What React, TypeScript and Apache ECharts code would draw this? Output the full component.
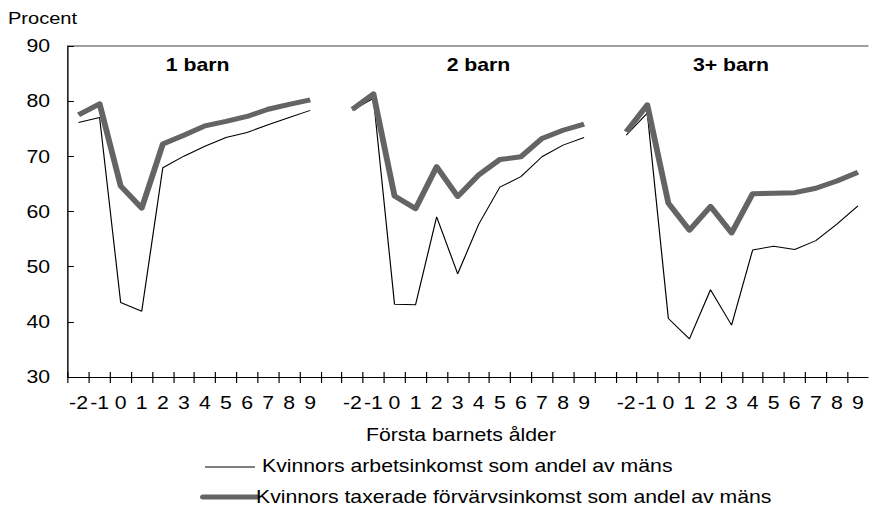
import React, { useEffect, useRef } from "react";
import * as echarts from "echarts";

// ---- data ----
const ages = ["-2", "-1", "0", "1", "2", "3", "4", "5", "6", "7", "8", "9"];
const panelTitles = ["1 barn", "2 barn", "3+ barn"];

const arbetsinkomst1 = [76.1, 77.0, 43.5, 41.9, 67.9, 70.0, 71.8, 73.4, 74.3, 75.7, 77.0, 78.3];
const arbetsinkomst2 = [78.3, 80.5, 43.2, 43.1, 59.0, 48.7, 57.7, 64.4, 66.3, 69.9, 72.0, 73.4];
const arbetsinkomst3 = [73.8, 77.8, 40.6, 36.9, 45.8, 39.4, 53.0, 53.7, 53.1, 54.7, 57.7, 61.0];

const taxerad1 = [77.5, 79.5, 64.6, 60.6, 72.2, 73.8, 75.5, 76.3, 77.2, 78.5, 79.4, 80.2];
const taxerad2 = [78.5, 81.3, 62.8, 60.5, 68.1, 62.7, 66.6, 69.4, 69.9, 73.2, 74.7, 75.8];
const taxerad3 = [74.4, 79.3, 61.5, 56.6, 60.9, 56.1, 63.2, 63.3, 63.4, 64.2, 65.5, 67.1];

const seriesNames = [
  "Kvinnors arbetsinkomst som andel av mäns",
  "Kvinnors taxerade förvärvsinkomst som andel av mäns",
];
const yTitle = "Procent";
const xTitle = "Första barnets ålder";
const yMin = 30;
const yMax = 90;
const yInterval = 10;

// ---- build category axis with gaps between panels ----
const categories: string[] = [];
ages.forEach((a) => categories.push(a));
categories.push("");
ages.forEach((a) => categories.push(a));
categories.push("");
ages.forEach((a) => categories.push(a));

const joinPanels = (a: number[], b: number[], c: number[]) =>
  [...a, null, ...b, null, ...c] as (number | null)[];

const thinData = joinPanels(arbetsinkomst1, arbetsinkomst2, arbetsinkomst3);
const thickData = joinPanels(taxerad1, taxerad2, taxerad3);

// ---- layout (horizontal stretch of the whole picture) ----
const S = 1.18;
const W = 736;
const H = 510;
const sx = (x: number) => x / S;
const FONT = "'Liberation Sans', Arial, sans-serif";

export default function App() {
  const ref = useRef<HTMLDivElement>(null);

  useEffect(() => {
    document.body.style.margin = "0";
    document.body.style.overflow = "hidden";
    if (!ref.current) return;
    const chart = echarts.init(ref.current, null, { renderer: "svg" });

    const txt = (text: string, x: number, y: number, size: number, align: string, bold = false) => ({
      type: "text",
      silent: true,
      style: {
        text,
        x,
        y,
        fill: "#000",
        fontSize: size,
        fontFamily: FONT,
        fontWeight: bold ? "bold" : "normal",
        align,
        textAlign: align,
        verticalAlign: "middle",
        textVerticalAlign: "middle",
      },
    });

    const option: any = {
      animation: false,
      backgroundColor: "#fff",
      grid: { left: sx(68), top: 45.8, width: sx(808), height: 331.2, containLabel: false },
      xAxis: [
        {
          type: "category",
          data: categories,
          position: "bottom",
          boundaryGap: true,
          axisLine: { show: true, lineStyle: { color: "#000", width: 1.2 } },
          axisTick: { show: true, inside: false, length: 6, interval: 0, lineStyle: { color: "#000", width: 1 } },
          axisLabel: { interval: 0, color: "#000", fontSize: 18, fontFamily: FONT, margin: 17 },
          splitLine: { show: false },
        },
        {
          type: "category",
          data: categories,
          position: "top",
          boundaryGap: true,
          axisLine: { show: true, lineStyle: { color: "#808080", width: 1.5 } },
          axisTick: { show: false },
          axisLabel: { show: false },
          splitLine: { show: false },
        },
        {
          type: "category",
          data: categories,
          position: "bottom",
          boundaryGap: true,
          axisLine: { show: false },
          axisTick: { show: true, inside: true, length: 5, interval: 0, lineStyle: { color: "#000", width: 1 } },
          axisLabel: { show: false },
          splitLine: { show: false },
        },
      ],
      yAxis: {
        type: "value",
        min: yMin,
        max: yMax,
        interval: yInterval,
        axisLine: { show: true, lineStyle: { color: "#000", width: 1.2 } },
        axisTick: { show: true, inside: true, length: 5, lineStyle: { color: "#000", width: 1 } },
        axisLabel: { color: "#000", fontSize: 18, fontFamily: FONT, margin: sx(18) },
        splitLine: { show: false },
      },
      series: [
        {
          name: seriesNames[0],
          type: "line",
          data: thinData,
          symbol: "none",
          connectNulls: false,
          lineStyle: { color: "#000", width: 1 },
          z: 2,
        },
        {
          name: seriesNames[1],
          type: "line",
          data: thickData,
          symbol: "none",
          connectNulls: false,
          lineStyle: { color: "#646464", width: 5, join: "round" },
          z: 3,
        },
      ],
      graphic: [
        txt(yTitle, sx(8), 18, 17, "left"),
        txt(panelTitles[0], sx(197.7), 65, 18, "center", true),
        txt(panelTitles[1], sx(478.5), 65, 18, "center", true),
        txt(panelTitles[2], sx(731), 65, 18, "center", true),
        txt(xTitle, sx(461), 434.5, 18, "center"),
        {
          type: "line",
          silent: true,
          shape: { x1: sx(205), y1: 467, x2: sx(255), y2: 467 },
          style: { stroke: "#000", lineWidth: 1 },
        },
        txt(seriesNames[0], sx(262), 466, 18, "left"),
        {
          type: "line",
          silent: true,
          shape: { x1: sx(203), y1: 497, x2: sx(257), y2: 497 },
          style: { stroke: "#646464", lineWidth: 5, lineCap: "round" },
        },
        txt(seriesNames[1], sx(256), 497, 18, "left"),
      ],
    };

    chart.setOption(option);
    return () => chart.dispose();
  }, []);

  return (
    <div
      ref={ref}
      style={{
        position: "absolute",
        left: 0,
        top: 0,
        width: W,
        height: H,
        transform: `scaleX(${S})`,
        transformOrigin: "0 0",
        overflow: "hidden",
      }}
    />
  );
}
